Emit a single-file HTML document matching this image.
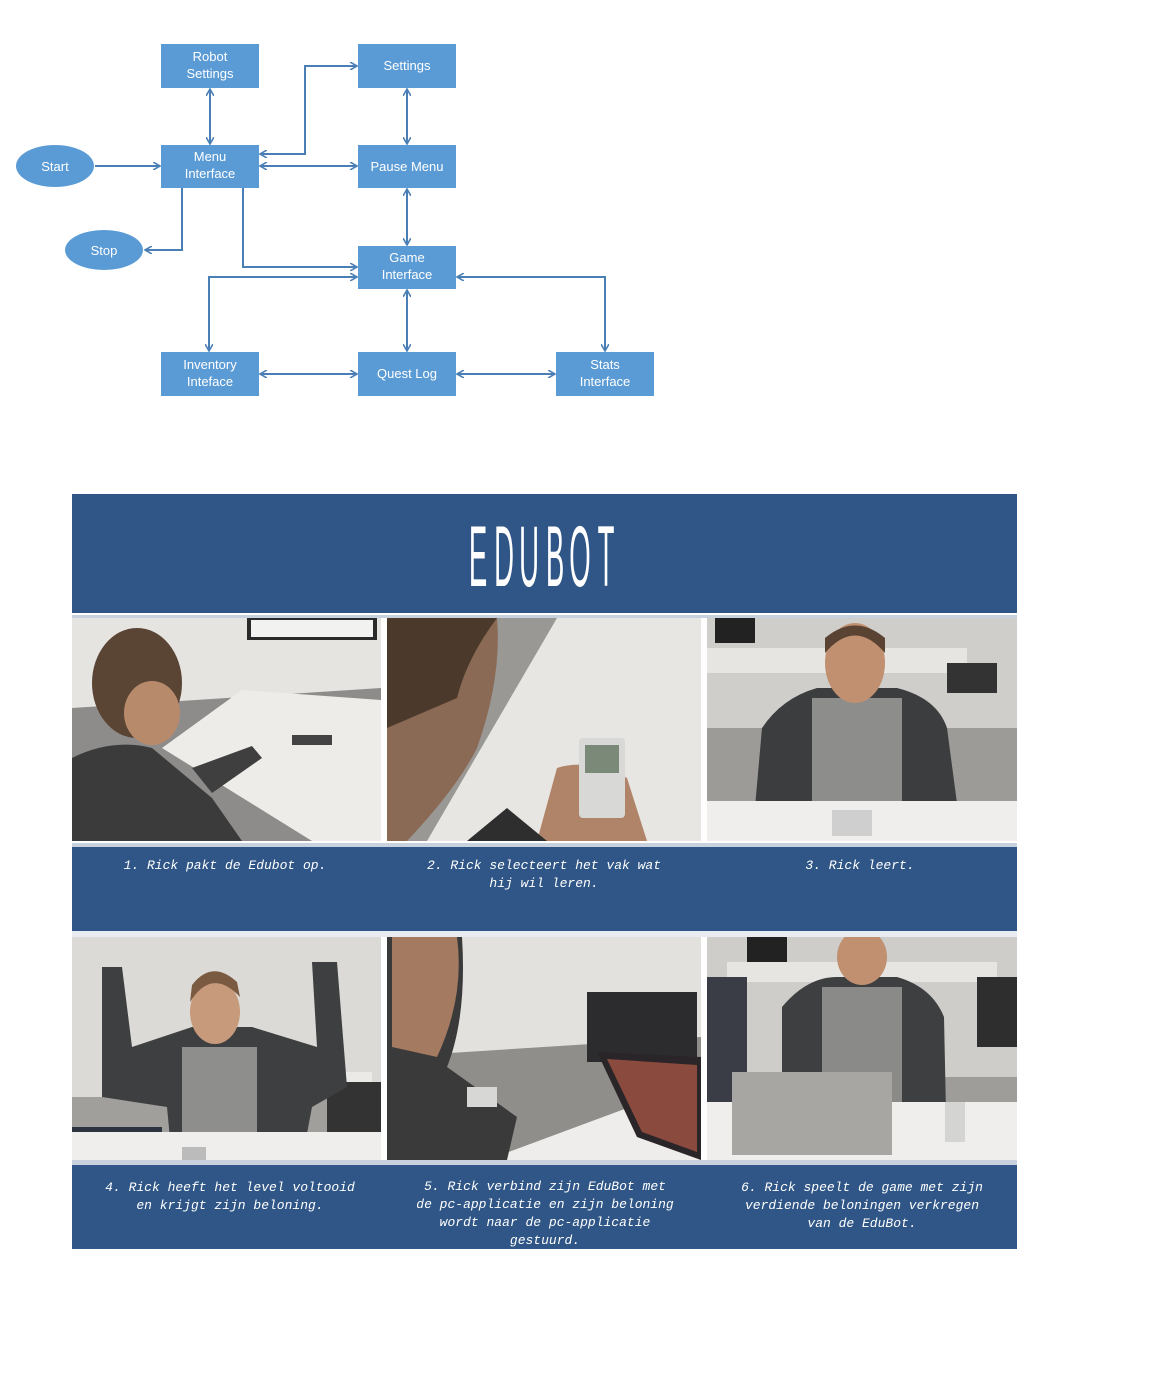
<!DOCTYPE html>
<html><head><meta charset="utf-8"><style>
html,body{margin:0;padding:0;background:#fff;width:1152px;height:1375px;overflow:hidden}
svg{display:block}
.bx{fill:#5b9bd5}
.bt{font-family:"Liberation Sans",sans-serif;font-size:13px;fill:#fff;text-anchor:middle}
.ln{stroke:#4a7fb5;stroke-width:2;fill:none}
.cap{font-family:"Liberation Mono",monospace;font-style:italic;font-size:13px;fill:#fff;text-anchor:middle}
.tt{font-family:"Liberation Sans",sans-serif;font-size:86px;fill:#fff;text-anchor:middle}
</style></head><body>
<svg width="1152" height="1375" viewBox="0 0 1152 1375" xmlns="http://www.w3.org/2000/svg">
<defs>
<marker id="a" markerWidth="8" markerHeight="8" refX="6" refY="4" orient="auto-start-reverse" markerUnits="userSpaceOnUse"><path d="M0,0 L7,4 L0,8" fill="none" stroke="#4a7fb5" stroke-width="1.6"/></marker>
</defs>
<g class="ln">
<line x1="95" y1="166" x2="159" y2="166" marker-end="url(#a)"/>
<line x1="210" y1="90" x2="210" y2="143" marker-start="url(#a)" marker-end="url(#a)"/>
<polyline points="261,154 305,154 305,66 356,66" marker-start="url(#a)" marker-end="url(#a)"/>
<line x1="261" y1="166" x2="356" y2="166" marker-start="url(#a)" marker-end="url(#a)"/>
<line x1="407" y1="90" x2="407" y2="143" marker-start="url(#a)" marker-end="url(#a)"/>
<polyline points="182,188 182,250 146,250" marker-end="url(#a)"/>
<polyline points="243,188 243,267 356,267" marker-end="url(#a)"/>
<line x1="407" y1="190" x2="407" y2="244" marker-start="url(#a)" marker-end="url(#a)"/>
<polyline points="356,277 209,277 209,350" marker-start="url(#a)" marker-end="url(#a)"/>
<polyline points="458,277 605,277 605,350" marker-start="url(#a)" marker-end="url(#a)"/>
<line x1="407" y1="291" x2="407" y2="350" marker-start="url(#a)" marker-end="url(#a)"/>
<line x1="261" y1="374" x2="356" y2="374" marker-start="url(#a)" marker-end="url(#a)"/>
<line x1="458" y1="374" x2="554" y2="374" marker-start="url(#a)" marker-end="url(#a)"/>
</g>
<ellipse cx="55" cy="166" rx="39" ry="21" class="bx"/><text x="55" y="171" class="bt">Start</text>
<ellipse cx="104" cy="250" rx="39" ry="20" class="bx"/><text x="104" y="255" class="bt">Stop</text>
<rect x="161" y="44" width="98" height="44" class="bx"/><text x="210" y="61" class="bt">Robot</text><text x="210" y="78" class="bt">Settings</text>
<rect x="358" y="44" width="98" height="44" class="bx"/><text x="407" y="70" class="bt">Settings</text>
<rect x="161" y="145" width="98" height="43" class="bx"/><text x="210" y="161" class="bt">Menu</text><text x="210" y="178" class="bt">Interface</text>
<rect x="358" y="145" width="98" height="43" class="bx"/><text x="407" y="171" class="bt">Pause Menu</text>
<rect x="358" y="246" width="98" height="43" class="bx"/><text x="407" y="262" class="bt">Game</text><text x="407" y="279" class="bt">Interface</text>
<rect x="161" y="352" width="98" height="44" class="bx"/><text x="210" y="369" class="bt">Inventory</text><text x="210" y="386" class="bt">Inteface</text>
<rect x="358" y="352" width="98" height="44" class="bx"/><text x="407" y="378" class="bt">Quest Log</text>
<rect x="556" y="352" width="98" height="44" class="bx"/><text x="605" y="369" class="bt">Stats</text><text x="605" y="386" class="bt">Interface</text>

<rect x="72" y="494" width="945" height="119" fill="#2f5686"/>
<g transform="translate(0,586)">
<text class="tt" transform="translate(478,0) scale(0.32,1)">E</text>
<text class="tt" transform="translate(504,0) scale(0.32,1)">D</text>
<text class="tt" transform="translate(529,0) scale(0.32,1)">U</text>
<text class="tt" transform="translate(555,0) scale(0.32,1)">B</text>
<text class="tt" transform="translate(580,0) scale(0.32,1)">O</text>
<text class="tt" transform="translate(606,0) scale(0.32,1)">T</text>
</g>
<rect x="72" y="615" width="945" height="3" fill="#c8d2de"/>

<svg x="72" y="618" width="309" height="223" viewBox="0 0 309 223">
<rect width="309" height="223" fill="#e6e4e0"/>
<rect x="175" y="0" width="130" height="22" fill="#2a2a2a"/><rect x="179" y="2" width="122" height="17" fill="#f2f2f0"/>
<polygon points="0,90 309,70 309,223 0,223" fill="#8d8c8a"/>
<rect x="158" y="86" width="150" height="50" fill="#2d2d2f"/>
<polygon points="90,130 170,72 309,82 309,223 240,223" fill="#eeece8"/>
<rect x="220" y="117" width="40" height="10" fill="#444"/>
<path d="M0,140 Q40,120 80,130 L140,180 L170,223 L0,223Z" fill="#3b3b3c"/>
<path d="M120,150 L180,128 L190,140 L140,175Z" fill="#3f3f40"/>
<ellipse cx="65" cy="65" rx="45" ry="55" fill="#5a4433"/>
<ellipse cx="80" cy="95" rx="28" ry="32" fill="#b88a6c"/>
</svg>
<svg x="387" y="618" width="314" height="223" viewBox="0 0 314 223">
<rect width="314" height="223" fill="#e8e6e2"/>
<polygon points="0,0 170,0 40,223 0,223" fill="#9a9894"/>
<path d="M0,0 L110,0 Q115,60 90,130 Q70,170 20,223 L0,223Z" fill="#8a6a55"/>
<path d="M0,0 L110,0 Q80,40 70,80 L0,110Z" fill="#4b3a2c"/>
<path d="M150,223 L170,150 Q200,140 240,160 L260,223Z" fill="#b08468"/>
<rect x="192" y="120" width="46" height="80" rx="4" fill="#d8d8d6"/><rect x="198" y="127" width="34" height="28" fill="#7b8a78"/>
<path d="M80,223 L120,190 L160,223Z" fill="#2e2e2e"/>
</svg>
<svg x="707" y="618" width="310" height="223" viewBox="0 0 310 223">
<rect width="310" height="223" fill="#cfcecb"/>
<rect x="0" y="110" width="310" height="80" fill="#9c9b98"/>
<rect x="0" y="30" width="260" height="25" fill="#e6e5e2"/>
<rect x="8" y="0" width="40" height="25" fill="#222"/>
<rect x="240" y="45" width="50" height="30" fill="#333"/>
<path d="M45,223 L55,110 Q75,80 110,70 L190,70 Q230,80 240,110 L255,223Z" fill="#3c3d3f"/>
<rect x="105" y="80" width="90" height="120" fill="#8d8d8c"/>
<ellipse cx="148" cy="45" rx="30" ry="40" fill="#c09070"/>
<path d="M118,35 Q148,0 178,35 L178,20 Q148,-5 118,20Z" fill="#5a4332"/>
<rect x="0" y="183" width="310" height="40" fill="#efeeec"/>
<rect x="125" y="192" width="40" height="26" fill="#cfcfcf"/>
</svg>
<rect x="72" y="843" width="945" height="4" fill="#c8d2de"/>
<rect x="72" y="847" width="945" height="84" fill="#2f5686"/>
<text x="225" y="869" class="cap">1. Rick pakt de Edubot op.</text>
<text x="544" y="869" class="cap">2. Rick selecteert het vak wat</text>
<text x="544" y="887" class="cap">hij wil leren.</text>
<text x="860" y="869" class="cap">3. Rick leert.</text>
<rect x="72" y="931" width="945" height="6" fill="#e8ecf1"/>

<svg x="72" y="937" width="309" height="223" viewBox="0 0 309 223">
<rect width="309" height="223" fill="#dcdad6"/>
<rect x="0" y="160" width="309" height="60" fill="#a09f9c"/>
<rect x="40" y="135" width="260" height="18" fill="#ebeae7"/>
<rect x="72" y="108" width="40" height="28" fill="#222"/>
<rect x="255" y="145" width="54" height="60" fill="#333"/>
<rect x="0" y="190" width="90" height="30" fill="#2e3340"/>
<path d="M30,30 L50,30 L60,110 L120,90 L180,90 L245,110 L240,25 L265,25 L275,150 L240,170 L230,223 L100,223 L95,170 L30,160Z" fill="#3e3f41"/>
<rect x="110" y="110" width="75" height="113" fill="#8e8e8d"/>
<ellipse cx="143" cy="75" rx="25" ry="32" fill="#c89a7c"/>
<path d="M118,65 Q140,30 168,60 L165,45 Q140,22 120,48Z" fill="#7a5a40"/>
<rect x="0" y="195" width="309" height="28" fill="#efeeec"/>
<rect x="110" y="210" width="24" height="13" fill="#bbb"/>
</svg>
<svg x="387" y="937" width="314" height="223" viewBox="0 0 314 223">
<rect width="314" height="223" fill="#e3e1dd"/>
<polygon points="0,120 314,100 314,223 0,223" fill="#8f8e8b"/>
<rect x="200" y="55" width="110" height="70" fill="#2c2c2e"/>
<polygon points="100,223 270,160 314,170 314,223" fill="#eeedeb"/>
<polygon points="210,115 314,120 314,223 250,200" fill="#2a2528"/>
<polygon points="220,122 310,128 310,215 255,195" fill="#8a4a3e"/>
<path d="M0,0 L75,0 Q80,80 60,130 L130,180 L120,223 L0,223Z" fill="#3a3a3b"/>
<path d="M5,0 L70,0 Q78,60 50,120 L5,110Z" fill="#a47a60"/>
<rect x="80" y="150" width="30" height="20" fill="#d7d7d5"/>
</svg>
<svg x="707" y="937" width="310" height="223" viewBox="0 0 310 223">
<rect width="310" height="223" fill="#cfcdca"/>
<rect x="0" y="140" width="310" height="60" fill="#9e9d9a"/>
<rect x="20" y="25" width="270" height="20" fill="#e6e5e2"/>
<rect x="40" y="0" width="40" height="25" fill="#222"/>
<rect x="270" y="40" width="40" height="70" fill="#2e2e2e"/>
<rect x="0" y="40" width="40" height="180" fill="#3a3d45"/>
<path d="M75,223 L75,70 Q100,40 130,40 L190,40 Q225,50 237,80 L240,223Z" fill="#3e3f41"/>
<rect x="115" y="50" width="80" height="120" fill="#8a8a89"/>
<ellipse cx="155" cy="20" rx="25" ry="28" fill="#c09070"/>
<rect x="0" y="165" width="310" height="58" fill="#efeeec"/>
<rect x="25" y="135" width="160" height="83" fill="#a8a6a2"/>
<rect x="238" y="165" width="20" height="40" fill="#d4d4d2"/>
</svg>
<rect x="72" y="1160" width="945" height="5" fill="#c8d2de"/>
<rect x="72" y="1165" width="945" height="84" fill="#2f5686"/>
<text x="230" y="1191" class="cap">4. Rick heeft het level voltooid</text>
<text x="230" y="1209" class="cap">en krijgt zijn beloning.</text>
<text x="545" y="1190" class="cap">5. Rick verbind zijn EduBot met</text>
<text x="545" y="1208" class="cap">de pc-applicatie en zijn beloning</text>
<text x="545" y="1226" class="cap">wordt naar de pc-applicatie</text>
<text x="545" y="1244" class="cap">gestuurd.</text>
<text x="862" y="1191" class="cap">6. Rick speelt de game met zijn</text>
<text x="862" y="1209" class="cap">verdiende beloningen verkregen</text>
<text x="862" y="1227" class="cap">van de EduBot.</text>
</svg>
</body></html>
